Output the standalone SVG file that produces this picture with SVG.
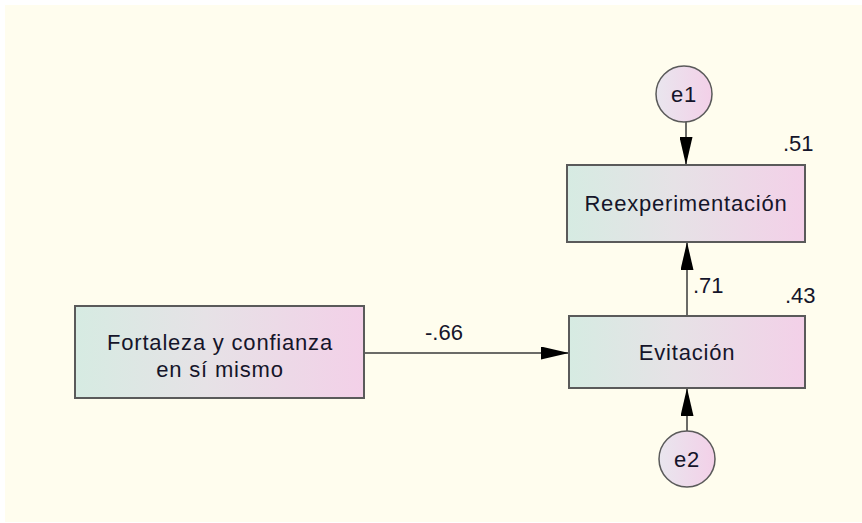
<svg xmlns="http://www.w3.org/2000/svg" width="862" height="523" viewBox="0 0 862 523">
  <defs>
    <linearGradient id="boxGrad" x1="0" y1="0" x2="1" y2="0">
      <stop offset="0" stop-color="#d6ebe2"/>
      <stop offset="0.45" stop-color="#e6e2e6"/>
      <stop offset="1" stop-color="#f3d0e8"/>
    </linearGradient>
    <linearGradient id="circGrad" x1="0" y1="0" x2="1" y2="0">
      <stop offset="0" stop-color="#e9e6ee"/>
      <stop offset="1" stop-color="#f3d0e8"/>
    </linearGradient>
    <marker id="arrow" viewBox="0 0 28 13" refX="28" refY="6.5" markerWidth="28" markerHeight="13" markerUnits="userSpaceOnUse" orient="auto">
      <path d="M0,0 L28,6.5 L0,13 Z" fill="#000"/>
    </marker>
  </defs>
  <style>
    .box { fill: url(#boxGrad); stroke: #5a5a5a; stroke-width: 2; }
    .circ { fill: url(#circGrad); stroke: #5a5a5a; stroke-width: 1.5; }
    .lbl { font-family: "Liberation Sans", Arial, sans-serif; font-size: 22px; fill: #15152a; letter-spacing: 0.8px; text-anchor: middle; }
    .num { font-family: "Liberation Sans", Arial, sans-serif; font-size: 22px; fill: #15152a; }
    .edge { stroke: #3a3a3a; stroke-width: 1.5; fill: none; marker-end: url(#arrow); }
  </style>
  <rect x="0" y="0" width="862" height="523" fill="#ffffff"/>
  <rect x="5" y="5" width="857" height="517" fill="#fffdee"/>

  <g id="connectors">
    <line class="edge" x1="364" y1="353" x2="569" y2="353"/>
    <line class="edge" x1="687" y1="316" x2="687" y2="242"/>
    <line class="edge" x1="686" y1="122" x2="686" y2="165"/>
    <line class="edge" x1="687" y1="431" x2="687" y2="388"/>
    <text class="num" x="425" y="340">-.66</text>
    <text class="num" x="693" y="293">.71</text>
  </g>

  <g id="fortaleza">
    <rect class="box" x="75" y="306" width="289" height="92"/>
    <text class="lbl" x="220" y="350">Fortaleza y confianza</text>
    <text class="lbl" x="220" y="377">en sí mismo</text>
  </g>

  <g id="evitacion">
    <rect class="box" x="569" y="316" width="236" height="72"/>
    <text class="lbl" x="687" y="360">Evitación</text>
    <text class="num" x="785" y="303">.43</text>
  </g>

  <g id="reexperimentacion">
    <rect class="box" x="567" y="165" width="238" height="77"/>
    <text class="lbl" x="686" y="211">Reexperimentación</text>
    <text class="num" x="783" y="151">.51</text>
  </g>

  <g id="e1">
    <circle class="circ" cx="684" cy="94" r="28"/>
    <text class="lbl" x="684" y="102">e1</text>
  </g>

  <g id="e2">
    <circle class="circ" cx="687" cy="459" r="28"/>
    <text class="lbl" x="687" y="467">e2</text>
  </g>
</svg>
